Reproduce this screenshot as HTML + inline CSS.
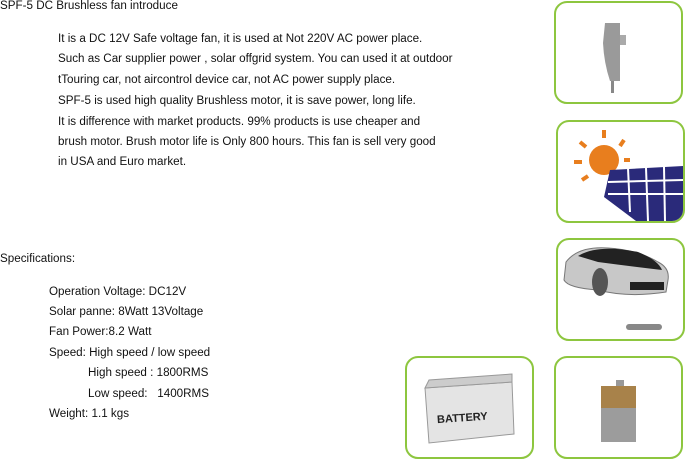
<!DOCTYPE html>
<html><head><style>
body{margin:0;width:685px;height:475px;background:#fff;position:relative;overflow:hidden;font-family:"Liberation Sans",Arial,sans-serif;font-size:11.65px;color:#111}
.t{position:absolute;white-space:nowrap;line-height:14px}
.b{position:absolute;border:2.5px solid #8dc63f;border-radius:13px;box-sizing:border-box;width:129px;height:103px;overflow:hidden;background:#fff}
</style></head><body>
<div class="t" style="left:0;top:-1px">SPF-5 DC Brushless fan introduce</div>
<div class="t" style="left:58px;top:32px">It is a DC 12V Safe voltage fan, it is used at Not 220V AC power place.</div>
<div class="t" style="left:58px;top:52px">Such as Car supplier power , solar offgrid system. You can used it at outdoor</div>
<div class="t" style="left:58px;top:73px">tTouring car, not aircontrol device car, not AC power supply place.</div>
<div class="t" style="left:58px;top:94px">SPF-5 is used high quality Brushless motor, it is save power, long life.</div>
<div class="t" style="left:58px;top:115px">It is difference with market products. 99% products is use cheaper and</div>
<div class="t" style="left:58px;top:135px">brush motor. Brush motor life is Only 800 hours. This fan is sell very good</div>
<div class="t" style="left:58px;top:155px">in USA and Euro market.</div>
<div class="t" style="left:0;top:252px">Specifications:</div>
<div class="t" style="left:49px;top:285px">Operation Voltage: DC12V</div>
<div class="t" style="left:49px;top:305px">Solar panne: 8Watt 13Voltage</div>
<div class="t" style="left:49px;top:325px">Fan Power:8.2 Watt</div>
<div class="t" style="left:49px;top:346px">Speed: High speed / low speed</div>
<div class="t" style="left:88px;top:366px">High speed : 1800RMS</div>
<div class="t" style="left:88px;top:387px">Low speed: &nbsp;&nbsp;1400RMS</div>
<div class="t" style="left:49px;top:407px">Weight: 1.1 kgs</div>

<div class="b" style="left:554px;top:1px"><svg width="125" height="99"><path d="M49 20 L64 20 L64 78 L54 78 Q48 60 47 40 Z" fill="#9a9a9a"/><rect x="64" y="32" width="6" height="10" fill="#aaa"/><rect x="55" y="78" width="3" height="12" fill="#888"/></svg></div>
<div class="b" style="left:556px;top:120px"><svg width="125" height="99"><circle cx="46" cy="38" r="15" fill="#e87e1e"/><g stroke="#e87e1e" stroke-width="4"><line x1="46" y1="8" x2="46" y2="16"/><line x1="22" y1="20" x2="28" y2="25"/><line x1="16" y1="40" x2="24" y2="40"/><line x1="66" y1="18" x2="62" y2="24"/><line x1="24" y1="58" x2="30" y2="54"/><line x1="72" y1="38" x2="66" y2="38"/></g><path d="M52 48 L125 44 L125 99 L78 99 L46 75 Z" fill="#2a2a7a"/><g stroke="#fff" stroke-width="2"><line x1="50" y1="60" x2="125" y2="58"/><line x1="50" y1="72" x2="125" y2="72"/><line x1="70" y1="46" x2="72" y2="90"/><line x1="88" y1="46" x2="90" y2="99"/><line x1="106" y1="45" x2="107" y2="99"/></g></svg></div>
<div class="b" style="left:556px;top:238px"><svg width="125" height="99"><path d="M8 22 Q20 6 50 8 Q80 10 100 22 Q112 28 110 40 L108 52 Q70 58 40 50 Q10 48 6 40 Z" fill="#c8c8c8" stroke="#777"/><path d="M20 16 Q40 4 80 12 Q100 20 104 30 Q70 26 40 22 Z" fill="#222"/><ellipse cx="42" cy="42" rx="8" ry="14" fill="#555"/><rect x="72" y="42" width="34" height="8" fill="#222"/><rect x="68" y="84" width="36" height="6" rx="3" fill="#888"/></svg></div>
<div class="b" style="left:405px;top:356px"><svg width="125" height="99"><path d="M18 30 L105 24 L107 76 L22 85 Z" fill="#e4e4e4" stroke="#999"/><path d="M18 30 L22 22 L105 16 L105 24 Z" fill="#ccc" stroke="#999"/><text x="30" y="63" font-family="Liberation Sans,sans-serif" font-weight="bold" font-size="11" fill="#222" transform="rotate(-4 60 60)">BATTERY</text></svg></div>
<div class="b" style="left:554px;top:356px"><svg width="125" height="99"><rect x="60" y="22" width="8" height="6" fill="#999"/><rect x="45" y="28" width="35" height="22" fill="#a8824a"/><rect x="45" y="50" width="35" height="34" fill="#9c9c9c"/></svg></div>
</body></html>
